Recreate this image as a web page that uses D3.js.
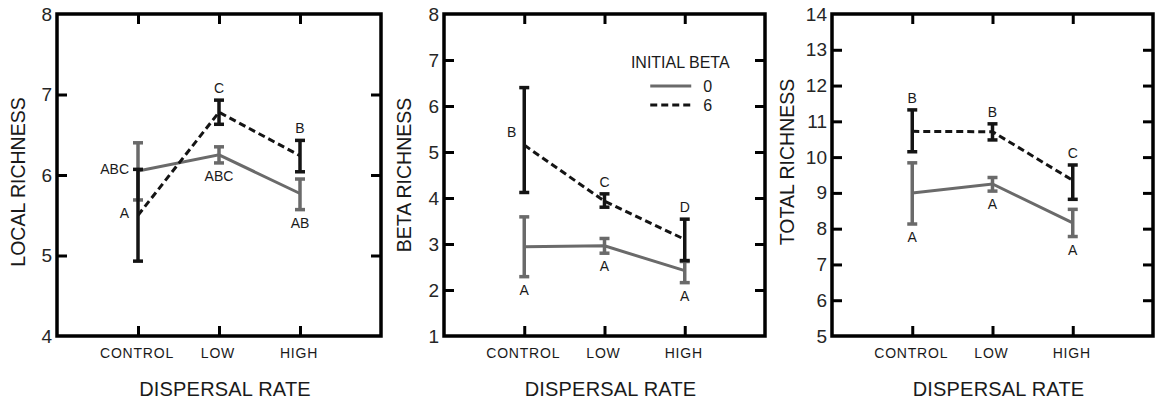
<!DOCTYPE html>
<html>
<head>
<meta charset="utf-8">
<script src="https://cdn.jsdelivr.net/npm/d3@7/dist/d3.min.js"></script>
<style>
  html, body { margin: 0; padding: 0; background: #fff; }
  svg { display: block; font-family: "Liberation Sans", Arial, sans-serif; }
  .ticklab { font-size: 19px; fill: #262626; }
  .catlab { font-size: 14px; fill: #1a1a1a; letter-spacing: 0.8px; }
  .ytitle { font-size: 19.5px; fill: #1a1a1a; }
  .xtitle { font-size: 20px; fill: #1a1a1a; letter-spacing: 0.2px; }
  .sig { font-size: 14px; fill: #1a1a1a; }
  .legend { font-size: 16px; fill: #1a1a1a; }
</style>
</head>
<body>
<svg id="fig" width="1155" height="404"></svg>
<script>
// Dispersal treatments (x categories) and the two initial-beta groups
const categories = ["CONTROL", "LOW", "HIGH"];
const groups = ["0", "6"];

// Local richness: means and error-bar limits
const localMean0 = [6.05, 6.25, 5.77];
const localLo0   = [5.69, 6.15, 5.57];
const localHi0   = [6.40, 6.35, 5.95];
const localMean6 = [5.50, 6.78, 6.24];
const localLo6   = [4.93, 6.63, 6.04];
const localHi6   = [6.07, 6.93, 6.43];
const localSig0  = ["ABC", "ABC", "AB"];
const localSig6  = ["A", "C", "B"];

// Beta richness
const betaMean0 = [2.94, 2.96, 2.42];
const betaLo0   = [2.29, 2.80, 2.16];
const betaHi0   = [3.59, 3.12, 2.62];
const betaMean6 = [5.15, 3.93, 3.10];
const betaLo6   = [4.12, 3.80, 2.64];
const betaHi6   = [6.40, 4.09, 3.54];
const betaSig0  = ["A", "A", "A"];
const betaSig6  = ["B", "C", "D"];

// Total richness
const totalMean0 = [9.00, 9.25, 8.16];
const totalLo0   = [8.13, 9.05, 7.78];
const totalHi0   = [9.84, 9.43, 8.54];
const totalMean6 = [10.72, 10.71, 9.35];
const totalLo6   = [10.15, 10.48, 8.82];
const totalHi6   = [11.32, 10.93, 9.78];
const totalSig0  = ["A", "A", "A"];
const totalSig6  = ["B", "B", "C"];

// Axis ticks
const localTicks = [4, 5, 6, 7, 8];
const betaTicks  = [1, 2, 3, 4, 5, 6, 7, 8];
const totalTicks = [5, 6, 7, 8, 9, 10, 11, 12, 13, 14];

const panels = [
  { title: "LOCAL RICHNESS", ticks: localTicks,
    series: [
      { mean: localMean0, lo: localLo0, hi: localHi0, sig: localSig0,
        place: ["left", "below", "below"] },
      { mean: localMean6, lo: localLo6, hi: localHi6, sig: localSig6,
        place: ["left", "above", "above"] } ] },
  { title: "BETA RICHNESS", ticks: betaTicks,
    series: [
      { mean: betaMean0, lo: betaLo0, hi: betaHi0, sig: betaSig0,
        place: ["below", "below", "below"] },
      { mean: betaMean6, lo: betaLo6, hi: betaHi6, sig: betaSig6,
        place: ["leftup", "above", "above"] } ],
    legend: true },
  { title: "TOTAL RICHNESS", ticks: totalTicks,
    series: [
      { mean: totalMean0, lo: totalLo0, hi: totalHi0, sig: totalSig0,
        place: ["below", "below", "below"] },
      { mean: totalMean6, lo: totalLo6, hi: totalHi6, sig: totalSig6,
        place: ["above", "above", "above"] } ] }
];

// Frame of each panel in page pixels, plus y-title placement
const frames = [
  { x0: 57,  x1: 381,  ytx: 18,  ytOff: 7 },
  { x0: 444, x1: 765,  ytx: 404, ytOff: 0 },
  { x0: 832, x1: 1153, ytx: 787, ytOff: -13 }
];
const plotTop = 14, plotBottom = 336;

const styles = [
  { color: "#6a6a6a", dash: null },
  { color: "#141414", dash: "7,4" }
];
const LW = 3, TICK = 10, CAP = 5;

const svg = d3.select("#fig");

panels.forEach((p, pi) => {
  const f = frames[pi];
  const x = d3.scaleLinear().domain([0, categories.length + 1]).range([f.x0, f.x1]);
  const y = d3.scaleLinear().domain(d3.extent(p.ticks)).range([plotBottom, plotTop]);
  const g = svg.append("g");

  // inward ticks on all four sides
  const inner = p.ticks.slice(1, -1);
  const axL = d3.axisRight(y).tickValues(inner).tickSize(TICK).tickFormat("");
  const axR = d3.axisLeft(y).tickValues(inner).tickSize(TICK).tickFormat("");
  const xv = d3.range(1, categories.length + 1);
  const axB = d3.axisTop(x).tickValues(xv).tickSize(TICK).tickFormat("");
  const axT = d3.axisBottom(x).tickValues(xv).tickSize(TICK).tickFormat("");
  [[axL, `translate(${f.x0},0)`], [axR, `translate(${f.x1},0)`],
   [axB, `translate(0,${plotBottom})`], [axT, `translate(0,${plotTop})`]].forEach(([ax, tr]) => {
    const a = g.append("g").attr("transform", tr).call(ax);
    a.select(".domain").remove();
    a.selectAll("line").attr("stroke", "#000").attr("stroke-width", LW);
  });

  // frame
  g.append("rect")
    .attr("x", f.x0).attr("y", plotTop)
    .attr("width", f.x1 - f.x0).attr("height", plotBottom - plotTop)
    .attr("fill", "none").attr("stroke", "#000").attr("stroke-width", 3.5);

  // y tick labels
  g.selectAll(".ticklab").data(p.ticks).join("text")
    .attr("class", "ticklab")
    .attr("x", f.x0 - 5).attr("y", d => y(d))
    .attr("text-anchor", "end").attr("dominant-baseline", "central")
    .text(d => d);

  // category labels
  g.selectAll(".catlab").data(categories).join("text")
    .attr("class", "catlab")
    .attr("x", (d, i) => x(i + 1) - 1).attr("y", plotBottom + 17)
    .attr("text-anchor", "middle").attr("dominant-baseline", "central")
    .text(d => d);

  // axis titles
  const yc = (plotTop + plotBottom) / 2 + f.ytOff;
  g.append("text").attr("class", "ytitle")
    .attr("transform", `translate(${f.ytx},${yc}) rotate(-90)`)
    .attr("text-anchor", "middle").attr("dominant-baseline", "central")
    .text(p.title);
  g.append("text").attr("class", "xtitle")
    .attr("x", x(2) + 6).attr("y", 389)
    .attr("text-anchor", "middle").attr("dominant-baseline", "central")
    .text("DISPERSAL RATE");

  // series: line, error bars, significance letters
  p.series.forEach((s, si) => {
    const st = styles[si];
    const pts = s.mean.map((m, i) => [x(i + 1), y(m)]);
    g.append("path")
      .attr("d", d3.line()(pts))
      .attr("fill", "none").attr("stroke", st.color).attr("stroke-width", LW)
      .attr("stroke-dasharray", st.dash);

    const eb = g.append("g").attr("stroke", st.color).attr("stroke-width", LW + 0.5);
    s.mean.forEach((m, i) => {
      const cx = x(i + 1);
      eb.append("line").attr("x1", cx).attr("x2", cx)
        .attr("y1", y(s.lo[i])).attr("y2", y(s.hi[i]));
      [s.lo[i], s.hi[i]].forEach(v => {
        eb.append("line").attr("x1", cx - CAP).attr("x2", cx + CAP)
          .attr("y1", y(v)).attr("y2", y(v));
      });
    });

    s.sig.forEach((t, i) => {
      const cx = x(i + 1);
      const pl = s.place[i];
      let tx = cx, ty, anchor = "middle";
      if (pl === "above") ty = y(s.hi[i]) - 12;
      else if (pl === "below") ty = y(s.lo[i]) + 13;
      else if (pl === "left") { tx = cx - 9; ty = y(s.mean[i]) - 2; anchor = "end"; }
      else { tx = cx - 8; ty = y(s.mean[i]) - 13; anchor = "end"; }
      g.append("text").attr("class", "sig")
        .attr("x", tx).attr("y", ty)
        .attr("text-anchor", anchor).attr("dominant-baseline", "central")
        .text(t);
    });
  });

  // legend
  if (p.legend) {
    const lx = x(2.57), lw = 41;
    g.append("text").attr("class", "legend")
      .attr("x", lx + 30).attr("y", 62)
      .attr("text-anchor", "middle").attr("dominant-baseline", "central")
      .text("INITIAL BETA");
    groups.forEach((name, gi) => {
      const ly = 86 + gi * 19;
      g.append("line").attr("x1", lx).attr("x2", lx + lw)
        .attr("y1", ly).attr("y2", ly)
        .attr("stroke", styles[gi].color).attr("stroke-width", LW)
        .attr("stroke-dasharray", styles[gi].dash);
      g.append("text").attr("class", "legend")
        .attr("x", lx + lw + 12).attr("y", ly)
        .attr("dominant-baseline", "central")
        .text(name);
    });
  }
});
</script>
</body>
</html>
